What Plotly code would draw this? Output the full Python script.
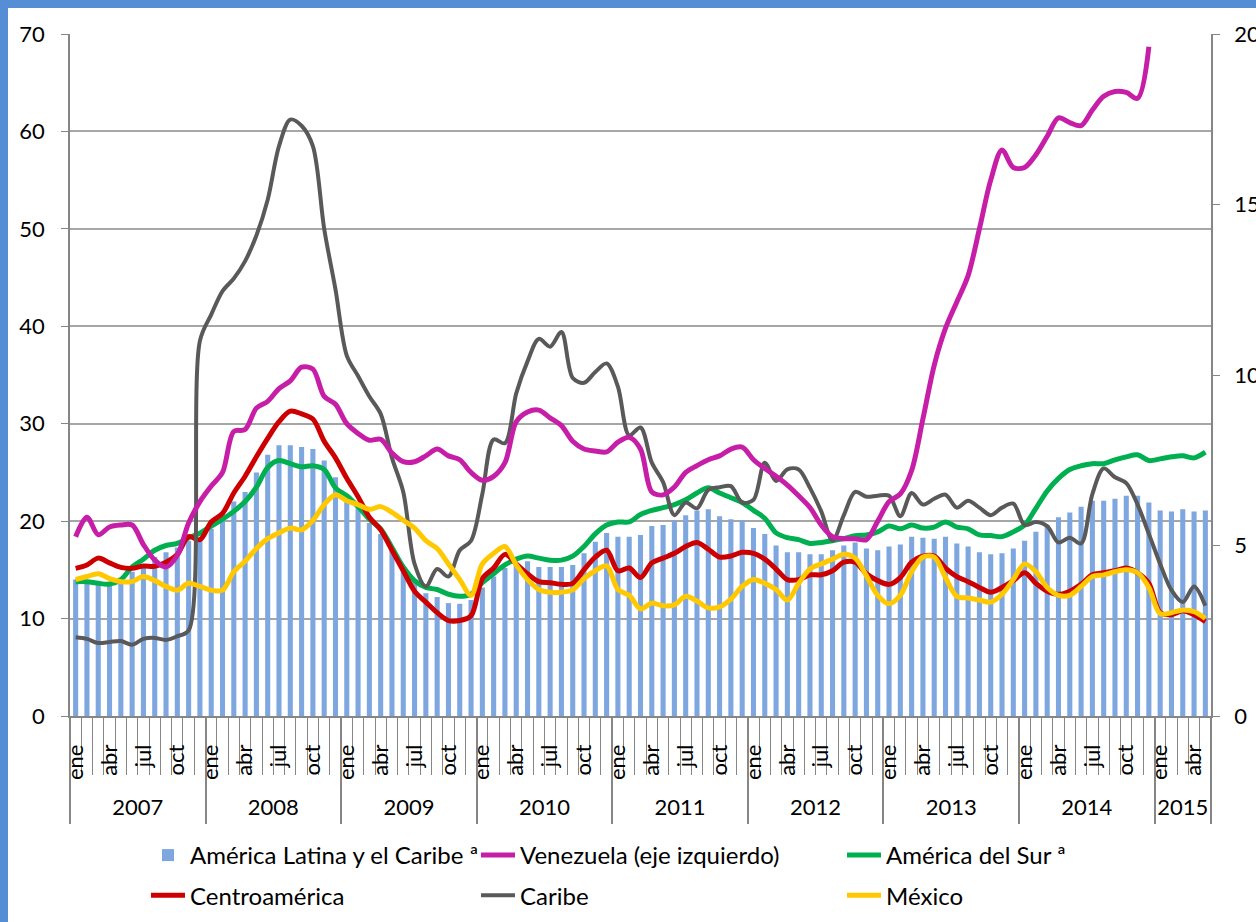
import plotly.graph_objects as go

# ---------------- data ----------------
month_names = ["ene", "feb", "mar", "abr", "may", "jun", "jul", "ago", "sep", "oct", "nov", "dic"]
years = ["2007", "2008", "2009", "2010", "2011", "2012", "2013", "2014", "2015"]
months_2015 = 5
labeled_months = ["ene", "abr", "jul", "oct"]

# América Latina y el Caribe (bars, right axis)
america_latina = [
    4.00, 3.97, 3.94, 3.91, 4.00, 4.23, 4.37, 4.66, 4.80, 4.94, 5.14, 5.20,
    5.49, 5.77, 6.29, 6.57, 7.14, 7.66, 7.94, 7.94, 7.89, 7.83, 7.49, 7.00,
    6.43, 6.14, 5.66, 5.34, 4.86, 4.40, 4.00, 3.60, 3.49, 3.31, 3.29, 3.40,
    3.77, 4.09, 4.34, 4.49, 4.54, 4.37, 4.37, 4.37, 4.43, 4.77, 5.11, 5.37,
    5.26, 5.26, 5.31, 5.57, 5.60, 5.74, 5.89, 6.03, 6.06, 5.86, 5.77, 5.74,
    5.51, 5.34, 5.00, 4.80, 4.80, 4.74, 4.74, 4.86, 5.00, 5.09, 4.91, 4.86,
    4.97, 5.03, 5.26, 5.23, 5.20, 5.26, 5.06, 4.97, 4.80, 4.74, 4.77, 4.91,
    5.14, 5.40, 5.60, 5.83, 5.97, 6.14, 6.31, 6.31, 6.37, 6.46, 6.46, 6.26,
    6.03, 6.00, 6.06, 6.00, 6.03,
]

# Venezuela (left axis)
venezuela = [
    18.4, 20.4, 18.6, 19.4, 19.6, 19.6, 17.6, 16.0, 15.3, 16.5, 19.8, 22.0,
    23.6, 25.0, 29.2, 29.4, 31.6, 32.3, 33.6, 34.4, 35.8, 35.6, 32.8, 32.0,
    30.0, 29.0, 28.3, 28.4, 27.0, 26.1, 26.1, 26.7, 27.4, 26.7, 26.3, 25.0,
    24.2, 24.6, 26.0, 30.2, 31.2, 31.4, 30.6, 29.8, 28.2, 27.4, 27.2, 27.1,
    28.1, 28.6, 27.4, 23.0, 22.7, 23.5, 25.0, 25.7, 26.3, 26.7, 27.4, 27.6,
    26.3, 25.4, 24.6, 23.7, 22.6, 21.4, 19.6, 18.4, 18.2, 18.2, 18.1, 20.0,
    22.0, 22.8, 25.2, 30.5, 36.0, 39.8, 42.5, 45.2, 50.0, 55.0, 58.1, 56.3,
    56.3, 57.6, 59.5, 61.4, 60.9, 60.6, 62.2, 63.6, 64.1, 64.0, 63.4, 68.7,
    None, None, None, None, None,
]

# América del Sur (right axis)
america_sur = [
    3.94, 3.94, 3.89, 3.87, 4.00, 4.37, 4.60, 4.86, 5.00, 5.06, 5.23, 5.36,
    5.57, 5.77, 6.00, 6.29, 6.71, 7.29, 7.49, 7.40, 7.31, 7.34, 7.23, 6.69,
    6.46, 6.14, 5.77, 5.49, 4.94, 4.37, 3.97, 3.77, 3.71, 3.57, 3.51, 3.57,
    3.91, 4.17, 4.43, 4.60, 4.69, 4.63, 4.57, 4.57, 4.69, 4.97, 5.34, 5.60,
    5.69, 5.69, 5.91, 6.03, 6.11, 6.20, 6.34, 6.54, 6.69, 6.54, 6.40, 6.26,
    6.03, 5.80, 5.37, 5.23, 5.17, 5.06, 5.09, 5.14, 5.20, 5.29, 5.31, 5.40,
    5.57, 5.49, 5.60, 5.51, 5.54, 5.69, 5.54, 5.49, 5.31, 5.29, 5.26, 5.40,
    5.60, 6.09, 6.60, 6.97, 7.23, 7.34, 7.40, 7.40, 7.51, 7.60, 7.66, 7.49,
    7.54, 7.60, 7.63, 7.57, 7.74,
]

# Centroamérica (right axis)
centroamerica = [
    4.33, 4.43, 4.63, 4.49, 4.36, 4.33, 4.40, 4.39, 4.51, 4.74, 5.26, 5.17,
    5.69, 5.94, 6.54, 7.03, 7.60, 8.14, 8.63, 8.94, 8.86, 8.71, 8.06, 7.57,
    6.97, 6.43, 5.83, 5.46, 4.86, 4.26, 3.66, 3.34, 3.03, 2.80, 2.80, 2.94,
    4.03, 4.34, 4.74, 4.46, 4.17, 3.94, 3.91, 3.86, 3.89, 4.29, 4.66, 4.86,
    4.26, 4.34, 4.06, 4.49, 4.63, 4.77, 4.97, 5.09, 4.89, 4.66, 4.69, 4.80,
    4.77, 4.60, 4.31, 4.00, 4.00, 4.14, 4.14, 4.26, 4.51, 4.51, 4.17, 3.97,
    3.86, 4.06, 4.51, 4.69, 4.69, 4.34, 4.09, 3.94, 3.77, 3.63, 3.77, 3.97,
    4.20, 3.89, 3.66, 3.57, 3.66, 3.86, 4.14, 4.20, 4.26, 4.34, 4.20, 3.89,
    3.03, 2.97, 3.09, 2.97, 2.77,
]

# Caribe (right axis)
caribe = [
    2.31, 2.26, 2.14, 2.17, 2.20, 2.09, 2.26, 2.29, 2.23, 2.34, 2.51, 11.00,
    11.77, 12.46, 12.83, 13.34, 14.09, 15.14, 16.71, 17.49, 17.31, 16.71, 14.29, 12.51,
    10.57, 9.97, 9.37, 8.86, 7.57, 6.57, 4.46, 3.80, 4.31, 4.09, 4.86, 5.14,
    6.51, 8.11, 8.00, 9.46, 10.40, 11.06, 10.83, 11.26, 9.91, 9.77, 10.09, 10.34,
    9.66, 8.23, 8.46, 7.43, 6.86, 5.89, 6.26, 6.09, 6.63, 6.71, 6.74, 6.26,
    6.34, 7.43, 6.89, 7.23, 7.23, 6.69, 6.00, 5.14, 5.89, 6.57, 6.43, 6.46,
    6.46, 5.86, 6.54, 6.20, 6.37, 6.49, 6.11, 6.31, 6.11, 5.89, 6.11, 6.23,
    5.60, 5.69, 5.57, 5.09, 5.23, 5.06, 6.51, 7.26, 7.00, 6.83, 6.20, 5.34,
    4.46, 3.69, 3.34, 3.80, 3.23,
]

# México (right axis)
mexico = [
    4.00, 4.09, 4.17, 4.03, 3.94, 3.94, 4.09, 3.97, 3.80, 3.69, 3.89, 3.80,
    3.69, 3.69, 4.23, 4.54, 4.91, 5.20, 5.37, 5.51, 5.46, 5.74, 6.20, 6.49,
    6.31, 6.20, 6.06, 6.14, 5.97, 5.74, 5.51, 5.14, 4.91, 4.46, 4.00, 3.54,
    4.46, 4.77, 4.97, 4.43, 4.00, 3.71, 3.63, 3.63, 3.70, 4.03, 4.26, 4.40,
    3.71, 3.54, 3.14, 3.31, 3.23, 3.26, 3.51, 3.37, 3.17, 3.20, 3.43, 3.80,
    4.00, 3.89, 3.71, 3.40, 3.89, 4.31, 4.46, 4.60, 4.74, 4.63, 4.11, 3.54,
    3.29, 3.54, 4.23, 4.66, 4.66, 4.06, 3.51, 3.46, 3.40, 3.34, 3.57, 4.00,
    4.46, 4.23, 3.77, 3.54, 3.54, 3.80, 4.09, 4.14, 4.23, 4.29, 4.20, 3.77,
    3.00, 3.03, 3.11, 3.06, 2.86,
]

left_ticks = [0, 10, 20, 30, 40, 50, 60, 70]
right_ticks = [0, 5, 10, 15, 20]

# ---------------- category positions ----------------
periods = []  # (year, month) for each monthly observation
for y in years:
    nmonths = months_2015 if y == "2015" else 12
    for m in range(nmonths):
        periods.append((y, month_names[m]))
n = len(periods)
xpos = list(range(n))

label_pos = [i for i, (_, m) in enumerate(periods) if m in labeled_months]
label_txt = [periods[i][1] for i in label_pos]
month_bounds = [i - 0.5 for i in range(n + 1)]

year_first = {}
year_last = {}
for i, (y, _) in enumerate(periods):
    year_first.setdefault(y, i)
    year_last[y] = i
year_centers = [(year_first[y] + year_last[y]) / 2 for y in years]
year_bounds = [year_first[y] - 0.5 for y in years] + [n - 0.5]

# ---------------- styles ----------------
FONT = "Lato, Carlito, Calibri, sans-serif"
AX = "#868686"
GRID = "#A6A6A6"
C_BAR = "#7EA6DF"
C_VEN = "#C71EA8"
C_SUR = "#00B050"
C_CEN = "#CC0000"
C_CAR = "#595959"
C_MEX = "#FFC800"

fig = go.Figure()

fig.add_trace(go.Bar(
    x=xpos, y=america_latina, name="América Latina y el Caribe ª",
    marker=dict(color=C_BAR, line=dict(width=0)), width=0.45,
    xaxis="x", yaxis="y", legend="legend", legendrank=1, legendgroup="alc",
))
fig.add_trace(go.Scatter(
    x=xpos, y=america_sur, name="América del Sur ª", mode="lines",
    line=dict(color=C_SUR, width=5, shape="spline", smoothing=0.9),
    xaxis="x", yaxis="y", legend="legend3", legendrank=1, legendgroup="sur",
))
fig.add_trace(go.Scatter(
    x=xpos, y=centroamerica, name="Centroamérica", mode="lines",
    line=dict(color=C_CEN, width=5, shape="spline", smoothing=0.9),
    xaxis="x", yaxis="y", legend="legend", legendrank=2, legendgroup="cen",
))
fig.add_trace(go.Scatter(
    x=xpos, y=caribe, name="Caribe", mode="lines",
    line=dict(color=C_CAR, width=4, shape="spline", smoothing=0.9),
    xaxis="x", yaxis="y", legend="legend2", legendrank=2, legendgroup="car",
))
fig.add_trace(go.Scatter(
    x=xpos, y=mexico, name="México", mode="lines",
    line=dict(color=C_MEX, width=5, shape="spline", smoothing=0.9),
    xaxis="x", yaxis="y", legend="legend3", legendrank=2, legendgroup="mex",
))
fig.add_trace(go.Scatter(
    x=xpos, y=venezuela, name="Venezuela (eje izquierdo)", mode="lines",
    line=dict(color=C_VEN, width=5, shape="spline", smoothing=0.9),
    connectgaps=False,
    xaxis="x", yaxis="y2", legend="legend2", legendrank=1, legendgroup="ven",
))
# carrier for the year axis
fig.add_trace(go.Scatter(
    x=[year_centers[0]], y=[None], xaxis="x2", yaxis="y", mode="lines",
    showlegend=False, hoverinfo="skip",
))

W, H = 1256, 922
ML, MR, MT, MB = 70, 45, 34, 206
PW, PH = W - ML - MR, H - MT - MB


def px_x(px):
    return (px - ML) / PW


def px_y(py):
    return (H - MB - py) / PH


legend_common = dict(
    orientation="v", xanchor="left", yanchor="top",
    xref="container", yref="container",
    font=dict(family=FONT, size=24, color="black"),
    bgcolor="rgba(0,0,0,0)", borderwidth=0, tracegroupgap=6,
    itemwidth=34, traceorder="grouped",
)

fig.update_layout(
    width=W, height=H,
    margin=dict(l=ML, r=MR, t=MT, b=MB, pad=0, autoexpand=False),
    paper_bgcolor="white", plot_bgcolor="white",
    font=dict(family=FONT, size=22, color="black"),
    barmode="overlay",
    showlegend=True,
    legend=dict(x=146 / W, y=1 - 833 / H, **legend_common),
    legend2=dict(x=476 / W, y=1 - 833 / H, **legend_common),
    legend3=dict(x=842 / W, y=1 - 833 / H, **legend_common),
    xaxis=dict(
        range=[-0.5, n - 0.5], tickmode="array", tickvals=label_pos, ticktext=label_txt,
        tickangle=-90, ticks="", showline=True, linecolor=AX, linewidth=1.5,
        showgrid=False, zeroline=False, ticklabelstandoff=18, automargin=False,
        tickfont=dict(family=FONT, size=22),
        minor=dict(tickmode="array", tickvals=month_bounds, ticks="outside",
                   ticklen=57, tickcolor=AX, tickwidth=1, showgrid=False),
    ),
    xaxis2=dict(
        overlaying="x", anchor="free", position=0, side="bottom",
        range=[-0.5, n - 0.5], tickmode="array", tickvals=year_centers, ticktext=years,
        ticks="", showline=False, showgrid=False, zeroline=False, automargin=False,
        ticklabelstandoff=76, tickfont=dict(family=FONT, size=22),
        minor=dict(tickmode="array", tickvals=year_bounds, ticks="outside",
                   ticklen=107, tickcolor=AX, tickwidth=1.5, showgrid=False),
    ),
    yaxis=dict(
        side="right", range=[0, 20], tickmode="array", tickvals=right_ticks,
        ticks="outside", ticklen=7, tickcolor=AX, showline=True, linecolor=AX,
        linewidth=1.5, showgrid=False, zeroline=False, ticklabelstandoff=10,
        automargin=False, tickfont=dict(family=FONT, size=22),
    ),
    yaxis2=dict(
        overlaying="y", side="left", range=[0, 70], tickmode="array", tickvals=left_ticks,
        ticks="outside", ticklen=7, tickcolor=AX, showline=True, linecolor=AX,
        linewidth=1.5, showgrid=True, gridcolor=GRID, gridwidth=1.5, zeroline=False,
        ticklabelstandoff=12, automargin=False, tickfont=dict(family=FONT, size=22),
    ),
    shapes=[
        dict(type="rect", xref="paper", yref="paper",
             x0=px_x(0), x1=px_x(W), y0=px_y(8), y1=px_y(0),
             fillcolor="#558ED5", line=dict(width=0), layer="above"),
        dict(type="rect", xref="paper", yref="paper",
             x0=px_x(0), x1=px_x(8), y0=px_y(H), y1=px_y(0),
             fillcolor="#558ED5", line=dict(width=0), layer="above"),
    ],
)

# place the figure flush with the page corner (no default body margin)
fig.write_html(
    "out.html",
    config={"displayModeBar": False},
    post_script="document.body.style.margin='0';document.documentElement.style.overflow='hidden';",
)
